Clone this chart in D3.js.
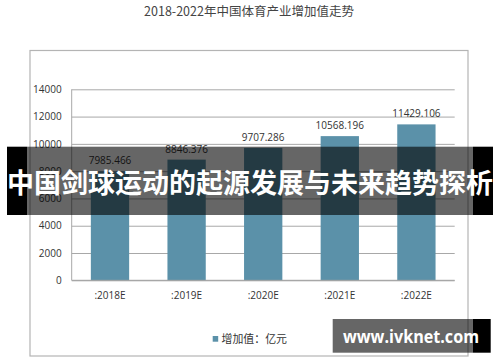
<!DOCTYPE html>
<html>
<head>
<meta charset="utf-8">
<script src="https://cdn.jsdelivr.net/npm/d3@7"></script>
<style>
  body { margin: 0; background: #fff; }
  svg { display: block; }
</style>
</head>
<body>
<svg id="chart"></svg>
<script>
const width = 500;
const height = 362;

// data
const years = [':2018E', ':2019E', ':2020E', ':2021E', ':2022E'];
const values = [7985.466, 8846.376, 9707.286, 10568.196, 11429.106];
const yTicks = [0, 2000, 4000, 6000, 8000, 10000, 12000, 14000];

const titleText = '2018-2022年中国体育产业增加值走势';
const legendText = '增加值：亿元';
const bannerText = '中国剑球运动的起源发展与未来趋势探析';
const siteText = 'www.ivknet.com';

const plot = {left: 71.7, right: 454.7, top: 89.3, bottom: 280.3};
const barColor = '#5b91a9';
const numFont = '"Open Sans", "DejaVu Sans", sans-serif';
const cjkFont = '"Noto Sans CJK SC", "Noto Sans", sans-serif';

const svg = d3.select('#chart')
    .attr('width', width)
    .attr('height', height);

// title
svg.append('text')
    .attr('x', 249)
    .attr('y', 16)
    .attr('text-anchor', 'middle')
    .attr('font-family', cjkFont)
    .attr('font-size', 12.5)
    .attr('fill', '#444')
    .text(titleText);

// chart frame
svg.append('rect')
    .attr('x', 30)
    .attr('y', 50.5)
    .attr('width', 438)
    .attr('height', 305.5)
    .attr('fill', '#fff')
    .attr('stroke', '#b4b4b4')
    .attr('stroke-width', 1.2);

const x = d3.scaleBand()
    .domain(years)
    .range([plot.left, plot.right])
    .paddingInner(0.5)
    .paddingOuter(0.25);

const y = d3.scaleLinear()
    .domain([0, 14000])
    .range([plot.bottom, plot.top]);

// grid + y labels
const yAxis = svg.append('g')
    .attr('transform', `translate(${plot.left},0)`)
    .call(d3.axisLeft(y)
        .tickValues(yTicks)
        .tickSize(-(plot.right - plot.left))
        .tickPadding(10)
        .tickFormat(d3.format('d')));
yAxis.select('.domain').remove();
yAxis.selectAll('.tick line')
    .attr('stroke', '#a8a8a8')
    .attr('stroke-width', 1);
yAxis.selectAll('.tick text')
    .attr('font-family', numFont)
    .attr('font-size', 10)
    .attr('fill', '#333');

// left axis line
svg.append('line')
    .attr('x1', plot.left).attr('x2', plot.left)
    .attr('y1', plot.top).attr('y2', plot.bottom)
    .attr('stroke', '#a8a8a8');

// bars
svg.append('g')
    .selectAll('rect')
    .data(values)
    .enter()
    .append('rect')
        .attr('x', (d, i) => x(years[i]))
        .attr('y', d => y(d))
        .attr('width', x.bandwidth())
        .attr('height', d => plot.bottom - y(d))
        .attr('fill', barColor);

// value labels
svg.append('g')
    .selectAll('text')
    .data(values)
    .enter()
    .append('text')
        .attr('x', (d, i) => x(years[i]) + x.bandwidth() / 2)
        .attr('y', d => y(d) - 7)
        .attr('text-anchor', 'middle')
        .attr('font-family', numFont)
        .attr('font-size', 10)
        .attr('fill', '#333')
        .text(d => d3.format('.3f')(d));

// bottom axis
const xAxis = svg.append('g')
    .attr('transform', `translate(0,${plot.bottom})`)
    .call(d3.axisBottom(x).tickSize(0).tickPadding(12));
xAxis.select('.domain')
    .attr('stroke', '#a0a0a0')
    .attr('d', `M${plot.left},0H${plot.right}`);
xAxis.selectAll('.tick text')
    .attr('font-family', numFont)
    .attr('font-size', 10)
    .attr('fill', '#333');

// legend
svg.append('rect')
    .attr('x', 212.7).attr('y', 336)
    .attr('width', 5.5).attr('height', 5.7)
    .attr('fill', barColor);
svg.append('text')
    .attr('x', 221.5).attr('y', 343)
    .attr('font-family', cjkFont)
    .attr('font-size', 11)
    .attr('fill', '#333')
    .attr('textLength', 65.5)
    .attr('lengthAdjust', 'spacingAndGlyphs')
    .text(legendText);

// banner overlay
svg.append('rect')
    .attr('x', 7).attr('y', 146.7)
    .attr('width', 20).attr('height', 68.3)
    .attr('fill', '#000');
svg.append('rect')
    .attr('x', 473).attr('y', 146.7)
    .attr('width', 20).attr('height', 68.3)
    .attr('fill', '#000');
svg.append('rect')
    .attr('x', 27).attr('y', 146.7)
    .attr('width', 446).attr('height', 68.3)
    .attr('fill', 'rgba(0,0,0,0.6)');
svg.append('text')
    .attr('x', 250).attr('y', 193)
    .attr('text-anchor', 'middle')
    .attr('font-family', cjkFont)
    .attr('font-weight', 'bold')
    .attr('font-size', 27)
    .attr('fill', '#fff')
    .attr('textLength', 486)
    .attr('lengthAdjust', 'spacingAndGlyphs')
    .text(bannerText);

// site watermark
svg.append('rect')
    .attr('x', 472.7).attr('y', 319)
    .attr('width', 18).attr('height', 33.7)
    .attr('fill', '#000');
svg.append('rect')
    .attr('x', 332.7).attr('y', 319)
    .attr('width', 140).attr('height', 33.7)
    .attr('fill', 'rgba(0,0,0,0.6)');
svg.append('text')
    .attr('x', 343).attr('y', 342.5)
    .attr('font-family', '"Open Sans", "DejaVu Sans", sans-serif')
    .attr('font-weight', 'bold')
    .attr('font-size', 17)
    .attr('fill', '#fff')
    .attr('textLength', 136)
    .attr('lengthAdjust', 'spacingAndGlyphs')
    .text(siteText);
</script>
</body>
</html>
